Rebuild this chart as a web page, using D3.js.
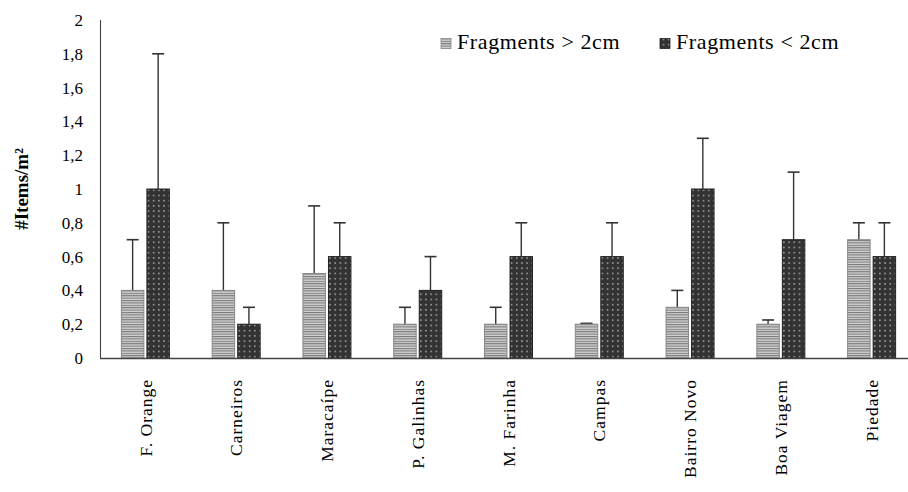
<!DOCTYPE html>
<html><head><meta charset="utf-8">
<script src="https://cdn.jsdelivr.net/npm/d3@7"></script>
<style>body{margin:0;background:#fff;}svg{display:block;}</style>
</head><body>
<svg id="c" width="908" height="492"></svg>
<script>
const categories = ["F. Orange","Carneiros","Maracaípe","P. Galinhas","M. Farinha","Campas","Bairro Novo","Boa Viagem","Piedade"];
const seriesNames = ["Fragments > 2cm","Fragments < 2cm"];
const largeVals = [0.4,0.4,0.5,0.2,0.2,0.2,0.3,0.2,0.7];
const largeErrTop = [0.7,0.8,0.9,0.3,0.3,0.205,0.4,0.225,0.8];
const smallVals = [1.0,0.2,0.6,0.4,0.6,0.6,1.0,0.7,0.6];
const smallErrTop = [1.8,0.3,0.8,0.6,0.8,0.8,1.3,1.1,0.8];
const yTicks = [0,0.2,0.4,0.6,0.8,1,1.2,1.4,1.6,1.8,2];

const FONT = "Liberation Serif";
const svg = d3.select("#c");
const defs = svg.append("defs");
const ps = defs.append("pattern").attr("id","stripes").attr("patternUnits","userSpaceOnUse").attr("width",4).attr("height",2.4);
ps.append("rect").attr("width",4).attr("height",2.4).attr("fill","#d4d4d4");
ps.append("rect").attr("y",0).attr("width",4).attr("height",1.1).attr("fill","#7a7a7a");
const pd = defs.append("pattern").attr("id","dots").attr("patternUnits","userSpaceOnUse").attr("width",5.2).attr("height",5.2).attr("x",0.5).attr("y",0.5);
pd.append("rect").attr("width",5.2).attr("height",5.2).attr("fill","#333");
pd.append("rect").attr("x",1.8).attr("y",1.8).attr("width",1.5).attr("height",1.5).attr("fill","#aaa");

const y = d3.scaleLinear().domain([0,2]).range([358,20]);
const x = d3.scaleBand().domain(categories).range([100,917]).paddingInner(0).paddingOuter(0);
const sub = d3.scaleBand().domain(seriesNames).range([-24,24]).paddingInner(0.12);

// y axis
const yAxis = d3.axisLeft(y).tickValues(yTicks).tickSize(0).tickPadding(17)
  .tickFormat(d => String(d).replace(".", ","));
const gy = svg.append("g").attr("transform","translate(100,0)").call(yAxis);
gy.select(".domain").remove();
gy.attr("font-family",FONT);
gy.selectAll("text").attr("font-family",FONT).attr("font-size",17).attr("fill","#000");
svg.append("line").attr("x1",100.5).attr("x2",100.5).attr("y1",y(2)).attr("y2",y(0)).attr("stroke","#444").attr("stroke-width",1.1);

// bars
const data = categories.map((c,i)=>({c, vals:[
  {s:seriesNames[0], v:largeVals[i], e:largeErrTop[i], fill:"url(#stripes)"},
  {s:seriesNames[1], v:smallVals[i], e:smallErrTop[i], fill:"url(#dots)"}]}));
const g = svg.append("g");
const grp = g.selectAll("g.cat").data(data).join("g")
  .attr("transform", d => `translate(${x(d.c)+x.bandwidth()/2},0)`);
grp.selectAll("line.err").data(d=>d.vals).join("line")
  .attr("x1", d=>sub(d.s)+sub.bandwidth()/2).attr("x2", d=>sub(d.s)+sub.bandwidth()/2)
  .attr("y1", d=>y(d.v)).attr("y2", d=>y(d.e)).attr("stroke","#333").attr("stroke-width",1.4);
grp.selectAll("line.cap").data(d=>d.vals).join("line")
  .attr("x1", d=>sub(d.s)+sub.bandwidth()/2-6).attr("x2", d=>sub(d.s)+sub.bandwidth()/2+6)
  .attr("y1", d=>y(d.e)).attr("y2", d=>y(d.e)).attr("stroke","#333").attr("stroke-width",1.6);
grp.selectAll("rect").data(d=>d.vals).join("rect")
  .attr("x", d=>sub(d.s)).attr("width", sub.bandwidth())
  .attr("y", d=>y(d.v)).attr("height", d=>y(0)-y(d.v))
  .attr("fill", d=>d.fill).attr("stroke", d=> d.s===seriesNames[0] ? "#888" : "#222").attr("stroke-width",1);

// x axis
svg.append("line").attr("x1",100).attr("x2",908).attr("y1",358.5).attr("y2",358.5).attr("stroke","#444").attr("stroke-width",1.3);
const xAxis = d3.axisBottom(x).tickSize(0).tickPadding(0);
const gx = svg.append("g").attr("transform","translate(0,368)").call(xAxis);
gx.select(".domain").remove();
gx.attr("font-family",FONT);
gx.selectAll(".tick text").attr("font-family",FONT).attr("font-size",17.5).attr("fill","#000")
  .attr("letter-spacing","1px")
  .attr("transform","rotate(-90)").attr("text-anchor","end").attr("dy","0.35em").attr("x",-11).attr("y",0);

// y title
svg.append("text").attr("transform","translate(28,189) rotate(-90)").attr("text-anchor","middle")
  .attr("font-family",FONT).attr("font-weight","bold").attr("font-size",19).text("#Items/m²");

// legend
const legX = [441, 660];
seriesNames.forEach((s,i)=>{
  svg.append("rect").attr("x",legX[i]).attr("y",38.5).attr("width",10).attr("height",10)
    .attr("fill", i===0 ? "url(#stripes)" : "url(#dots)").attr("stroke", i===0?"#888":"#222").attr("stroke-width",0.8);
  svg.append("text").attr("x",legX[i]+16).attr("y",48.5).attr("font-family",FONT).attr("font-size",22).attr("letter-spacing","0.6px").text(s);
});
</script>
</body></html>
